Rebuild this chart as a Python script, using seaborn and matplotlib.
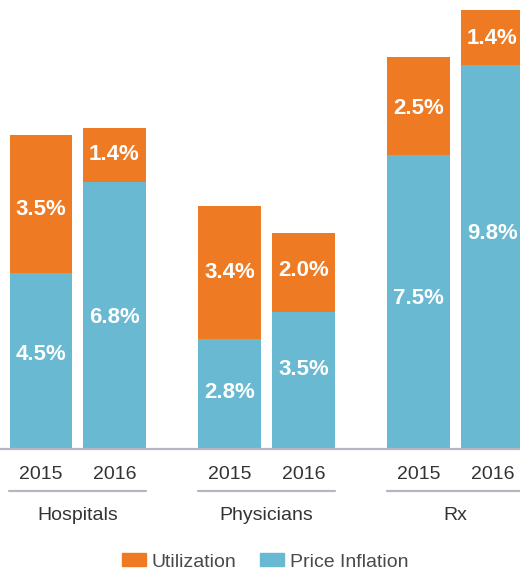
import pandas as pd
import numpy as np
import matplotlib.pyplot as plt
import seaborn as sns
from matplotlib.patches import Patch
from matplotlib.lines import Line2D

groups = ["Hospitals", "Physicians", "Rx"]
years = ["2015", "2016"]
price_inflation = [4.5, 6.8, 2.8, 3.5, 7.5, 9.8]
utilization = [3.5, 1.4, 3.4, 2.0, 2.5, 1.4]

ORANGE = "#EE7B23"
BLUE = "#68B9D1"
TEXT = "#333333"
GRID = "#B4B7C2"

GROUP_PITCH = 2.57  # distance between groups in bar units
# hand placement of labels inside segments (data units, + = up), as in the original
PRICE_NUDGE = [0.15, -0.05, 0.05, 0.28, 0.1, 0.6]
UTIL_NUDGE = [-0.13, 0.0, 0.0, 0.06, -0.06, -0.04]


def main():
    sns.set_theme(style="white")
    plt.rcParams['font.family'] = ['Liberation Sans', 'DejaVu Sans']

    rows = []
    for gi, g in enumerate(groups):
        for yi, yr in enumerate(years):
            k = gi * len(years) + yi
            rows.append({
                "group": g, "year": yr,
                "pos": gi * GROUP_PITCH + yi,
                "price": price_inflation[k],
                "util": utilization[k],
            })
    df = pd.DataFrame(rows)
    df["total"] = df["price"] + df["util"]

    fig = plt.figure(figsize=(5.20, 5.71), dpi=100)
    ax = fig.add_axes([0, 122 / 571, 1, 449 / 571])

    # stacked: total in orange, then price inflation on top of it in blue
    sns.barplot(data=df, x="pos", y="total", native_scale=True, width=0.857,
                color=ORANGE, saturation=1, ax=ax, linewidth=0, errorbar=None)
    sns.barplot(data=df, x="pos", y="price", native_scale=True, width=0.857,
                color=BLUE, saturation=1, ax=ax, linewidth=0, errorbar=None)

    ax.set_xlim(-41 / 73.5, (520 - 41) / 73.5)
    ax.set_ylim(0, 449 / 39.2)
    ax.axis("off")

    # value labels
    for i, r in df.iterrows():
        ax.text(r["pos"], r["price"] / 2 + PRICE_NUDGE[i], f"{r['price']:.1f}%",
                ha="center", va="center", color="white", fontsize=16, fontweight="bold")
        ax.text(r["pos"], r["price"] + r["util"] / 2 + UTIL_NUDGE[i], f"{r['util']:.1f}%",
                ha="center", va="center", color="white", fontsize=16, fontweight="bold")

    trans = ax.get_xaxis_transform()
    # baseline
    ax.add_line(Line2D([-1, 8], [0, 0], transform=trans, color=GRID, lw=1.6, clip_on=False))

    for gi, g in enumerate(groups):
        sub = df[df["group"] == g]
        for _, r in sub.iterrows():
            ax.text(r["pos"], -0.056, r["year"], transform=trans, ha="center", va="center",
                    fontsize=14, color=TEXT)
        x0 = sub["pos"].min() - 0.43
        x1 = sub["pos"].max() + 0.43
        ax.add_line(Line2D([x0, x1], [-0.0935, -0.0935], transform=trans, color=GRID,
                           lw=1.6, clip_on=False))
        ax.text(sub["pos"].mean(), -0.147, g, transform=trans, ha="center", va="center",
                fontsize=14, color=TEXT)

    handles = [Patch(color=ORANGE, label="Utilization"),
               Patch(color=BLUE, label="Price Inflation")]
    leg = fig.legend(handles=handles, loc="center", bbox_to_anchor=(0.51, 9 / 571), ncol=2,
                     frameon=False, fontsize=14, handlelength=1.24, handleheight=0.62,
                     handletextpad=0.3, columnspacing=1.2, borderaxespad=0)
    for t in leg.get_texts():
        t.set_color("#4a4a4a")

    fig.savefig("out.png", dpi=100)


if __name__ == "__main__":
    main()
